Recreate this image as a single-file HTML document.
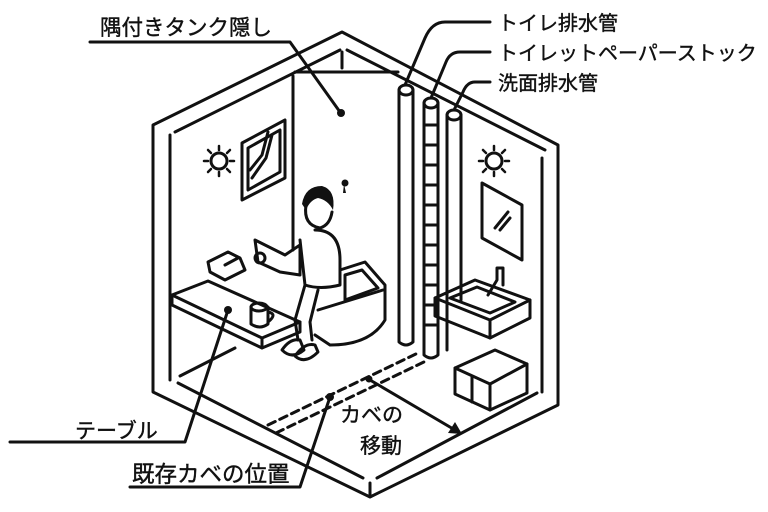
<!DOCTYPE html>
<html><head><meta charset="utf-8"><style>
html,body{margin:0;padding:0;background:#fff;}
svg{display:block;}
text{font-family:"Liberation Sans","Noto Sans CJK JP",sans-serif;fill:#111;stroke:#111;stroke-width:0.4;}
</style></head><body>
<svg width="768" height="512" viewBox="0 0 768 512" xmlns="http://www.w3.org/2000/svg">
<g fill="none" stroke="#111" stroke-width="3" stroke-linejoin="round" stroke-linecap="round">
<path d="M342,32 L558,145 L558,405 L370,497 L153,392 L153,125 Z"/>
<path d="M175,132 L340,50"/>
<path d="M347,50 L545,150"/>
<path d="M170,135 L170,380"/>
<path d="M542,158 L542,392"/>
<path d="M178,383 L363,478"/>
<path d="M377,478 L537,393"/>
<path d="M370,483 L370,496"/>
<path d="M342,52 L342,68"/>
<path d="M295,72 L398,72"/>
<path d="M293,76 L293,250"/>
<path d="M180,376 L235,348"/>
<path d="M242,143 L285,120 L285,178 L242,200 Z"/>
<path d="M248,148 L280,130 L280,172 L248,190 Z"/>
<path d="M250,170 L262,155 L268,132"/>
<path d="M252,178 L266,158 L272,135"/>
<circle cx="219" cy="161" r="8"/>
<circle cx="494" cy="161" r="8"/>
<g stroke-width="2.5">
<path d="M219,146v4M219,172v4M204,161h4M230,161h4M208,150l3,3M230,150l-3,3M208,172l3,-3M230,172l-3,-3"/>
<path d="M494,146v4M494,172v4M479,161h4M505,161h4M483,150l3,3M505,150l-3,3M483,172l3,-3M505,172l-3,-3"/>
</g>
<path d="M482,183 L522,205 L522,260 L482,238 Z"/>
<path d="M495,228 L508,212 M500,230 L510,218"/>
<path d="M399,90 L399,342 Q406,348 413,342 L413,90"/>
<ellipse cx="406" cy="90" rx="7" ry="5"/>
<path d="M424,103 L424,355 Q431,361 438,355 L438,103"/>
<ellipse cx="431" cy="103" rx="7" ry="5"/>
<path d="M424,125h14M424,145h14M424,165h14M424,185h14M424,205h14M424,225h14M424,245h14M424,265h14M424,285h14M424,305h14M424,325h14"/>
<path d="M447,115 L447,350 M461,115 L461,300"/>
<ellipse cx="454" cy="115" rx="7" ry="5"/>
<path d="M435,298 L475,280 L530,300 L530,318 L490,338 L435,316 Z"/>
<path d="M435,298 L490,320 L530,300 M490,320 L490,338"/>
<path d="M450,298 L477,287 L515,302 L490,313 Z"/>
<path d="M488,295 L497,280 L497,268 L503,268 L503,285"/>
<path d="M455,368 L495,350 L527,364 L527,393 L490,410 L455,394 Z"/>
<path d="M455,368 L490,384 L527,364 M490,384 L490,410 M472,376 L472,402"/>
<path d="M340,270 L365,262 L385,285 L385,320 Q370,345 330,345 L315,335"/>
<path d="M345,275 L362,270 L378,288 L345,300 Z"/>
<path d="M318,310 L383,290"/>
<path d="M306,205 Q303,225 320,228 Q330,225 332,212"/>
<path d="M315,230 Q340,230 340,260 L340,285 Q320,290 305,285 L300,240"/>
<path d="M255,240 L285,255 L300,245 L300,275 L280,272 L258,262 Z"/>
<circle cx="260" cy="258" r="5"/>
<path d="M305,285 L295,320 L298,340 M318,290 L310,322 L312,340"/>
<path d="M282,350 Q290,338 300,340 L304,350 Q292,360 282,350 Z"/>
<path d="M295,356 Q305,342 315,345 L318,352 Q305,365 295,356 Z"/>
<path d="M208,262 L228,252 L240,258 L245,270 L225,280 L210,272 Z"/>
<path d="M225,265 L238,258"/>
<path d="M172,295 L208,281 L300,322 L262,338 Z"/>
<path d="M172,295 L172,305 L262,348 L262,338 M262,348 L300,332 L300,322"/>
<path d="M251,307 L251,324 Q260,330 268,324 L268,307"/>
<ellipse cx="259" cy="307" rx="8" ry="4"/>
<path d="M268,312 Q278,314 268,322"/>
<path d="M268,425 L420,352" stroke-dasharray="8,5"/>
<path d="M276,433 L426,361" stroke-dasharray="8,5"/>
<path d="M370,380 L455,430"/>
<path d="M90,42 L290,42 L340,112"/>
<path d="M10,442 L185,442 L228,310"/>
<path d="M130,487 L300,487 L330,397"/>
<path d="M490,22 L445,22 Q432,22 425,38 L405,85"/>
<path d="M490,52 L460,52 Q450,52 446,62 L431,98"/>
<path d="M490,82 L475,82 Q467,82 463,92 L454,110"/>
</g>
<g fill="#111">
<circle cx="341" cy="113" r="4"/>
<circle cx="228" cy="310" r="4"/>
<circle cx="330" cy="397" r="4"/>
<circle cx="369" cy="379" r="3.5"/>
<circle cx="345" cy="183" r="3.5"/>
<path d="M344,184 L346,193 L343,193 Z"/>
<path d="M302,204 Q305,186 322,186 Q336,190 333,210 Q328,200 318,198 Q310,200 306,210 Z"/>
<path d="M462,434 L448,433 L455,422 Z"/>
</g>
<g font-size="21">
<text x="100" y="35" font-size="21.5">隅付きタンク隠し</text>
<text x="498" y="30" font-size="20">トイレ排水管</text>
<text x="498" y="60" font-size="20">トイレットペーパーストック</text>
<text x="498" y="90" font-size="20">洗面排水管</text>
<text x="75" y="438">テーブル</text>
<text x="132" y="482" font-size="22.5">既存カベの位置</text>
<text x="340" y="422">カベの</text>
<text x="360" y="453">移動</text>
</g>
</svg>
</body></html>
